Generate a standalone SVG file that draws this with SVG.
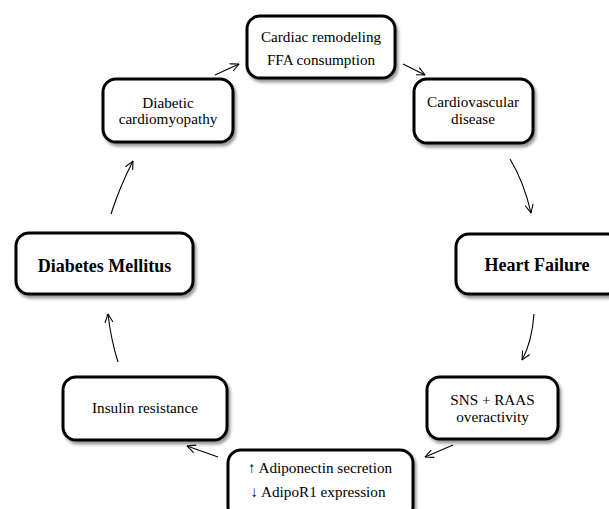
<svg xmlns="http://www.w3.org/2000/svg" width="609" height="509" viewBox="0 0 609 509">
  <defs>
    <filter id="sh" x="-10%" y="-10%" width="130%" height="140%">
      <feDropShadow dx="2" dy="3" stdDeviation="1.8" flood-color="#000" flood-opacity="0.4"/>
    </filter>
    <marker id="arr" viewBox="0 0 10 10" refX="9.5" refY="5" markerWidth="9" markerHeight="9" markerUnits="userSpaceOnUse" orient="auto">
      <path d="M0,0.5 L9.5,5 L0,9.5" fill="none" stroke="#000" stroke-width="1.2"/>
    </marker>
  </defs>
  <style>
    .box { fill: #fff; stroke: #000; stroke-width: 3; filter: url(#sh); }
    .t { font-family: "Liberation Serif", "Times New Roman", serif; font-size: 15.2px; fill: #000; text-anchor: middle; }
    .b { font-family: "Liberation Serif", "Times New Roman", serif; font-size: 18px; font-weight: bold; fill: #000; text-anchor: middle; }
    .c { fill: none; stroke: #000; stroke-width: 1.1; marker-end: url(#arr); }
  </style>
  <rect width="609" height="509" fill="#fff"/>

  <g id="connectors">
    <path class="c" d="M215,75 L239,64"/>
    <path class="c" d="M403,64 L425,75"/>
    <path class="c" d="M510,159 Q524,182 531,213"/>
    <path class="c" d="M534,314 Q532,342 522,360"/>
    <path class="c" d="M453,445 L425,457"/>
    <path class="c" d="M218,457 L187,446"/>
    <path class="c" d="M118,362 Q111,340 108,314"/>
    <path class="c" d="M111,214 Q120,186 133,161"/>
  </g>

  <g id="n_cardiac">
    <rect class="box" x="247" y="16" width="148" height="62" rx="13"/>
    <text class="t" x="321" y="42">Cardiac remodeling</text>
    <text class="t" x="321" y="65">FFA consumption</text>
  </g>

  <g id="n_cardiovascular">
    <rect class="box" x="414" y="79" width="119" height="64" rx="13"/>
    <text class="t" x="473" y="107">Cardiovascular</text>
    <text class="t" x="473" y="123.5">disease</text>
  </g>

  <g id="n_heart_failure">
    <rect class="box" x="456" y="234" width="165" height="60" rx="13"/>
    <text class="b" x="537" y="271">Heart Failure</text>
  </g>

  <g id="n_sns">
    <rect class="box" x="427" y="377" width="131" height="62" rx="13"/>
    <text class="t" x="492.5" y="405">SNS + RAAS</text>
    <text class="t" x="492.5" y="422">overactivity</text>
  </g>

  <g id="n_adiponectin">
    <rect class="box" x="228" y="450" width="185" height="70" rx="13"/>
    <text class="t" x="320" y="473">↑ Adiponectin secretion</text>
    <text class="t" x="318" y="497">↓ AdipoR1 expression</text>
  </g>

  <g id="n_insulin">
    <rect class="box" x="63" y="377" width="164" height="63" rx="13"/>
    <text class="t" x="145" y="413">Insulin resistance</text>
  </g>

  <g id="n_dm">
    <rect class="box" x="16" y="233" width="177" height="61" rx="13"/>
    <text class="b" x="104.5" y="272">Diabetes Mellitus</text>
  </g>

  <g id="n_dcm">
    <rect class="box" x="103" y="79" width="130" height="63" rx="13"/>
    <text class="t" x="168" y="107.5">Diabetic</text>
    <text class="t" x="168" y="124">cardiomyopathy</text>
  </g>
</svg>
